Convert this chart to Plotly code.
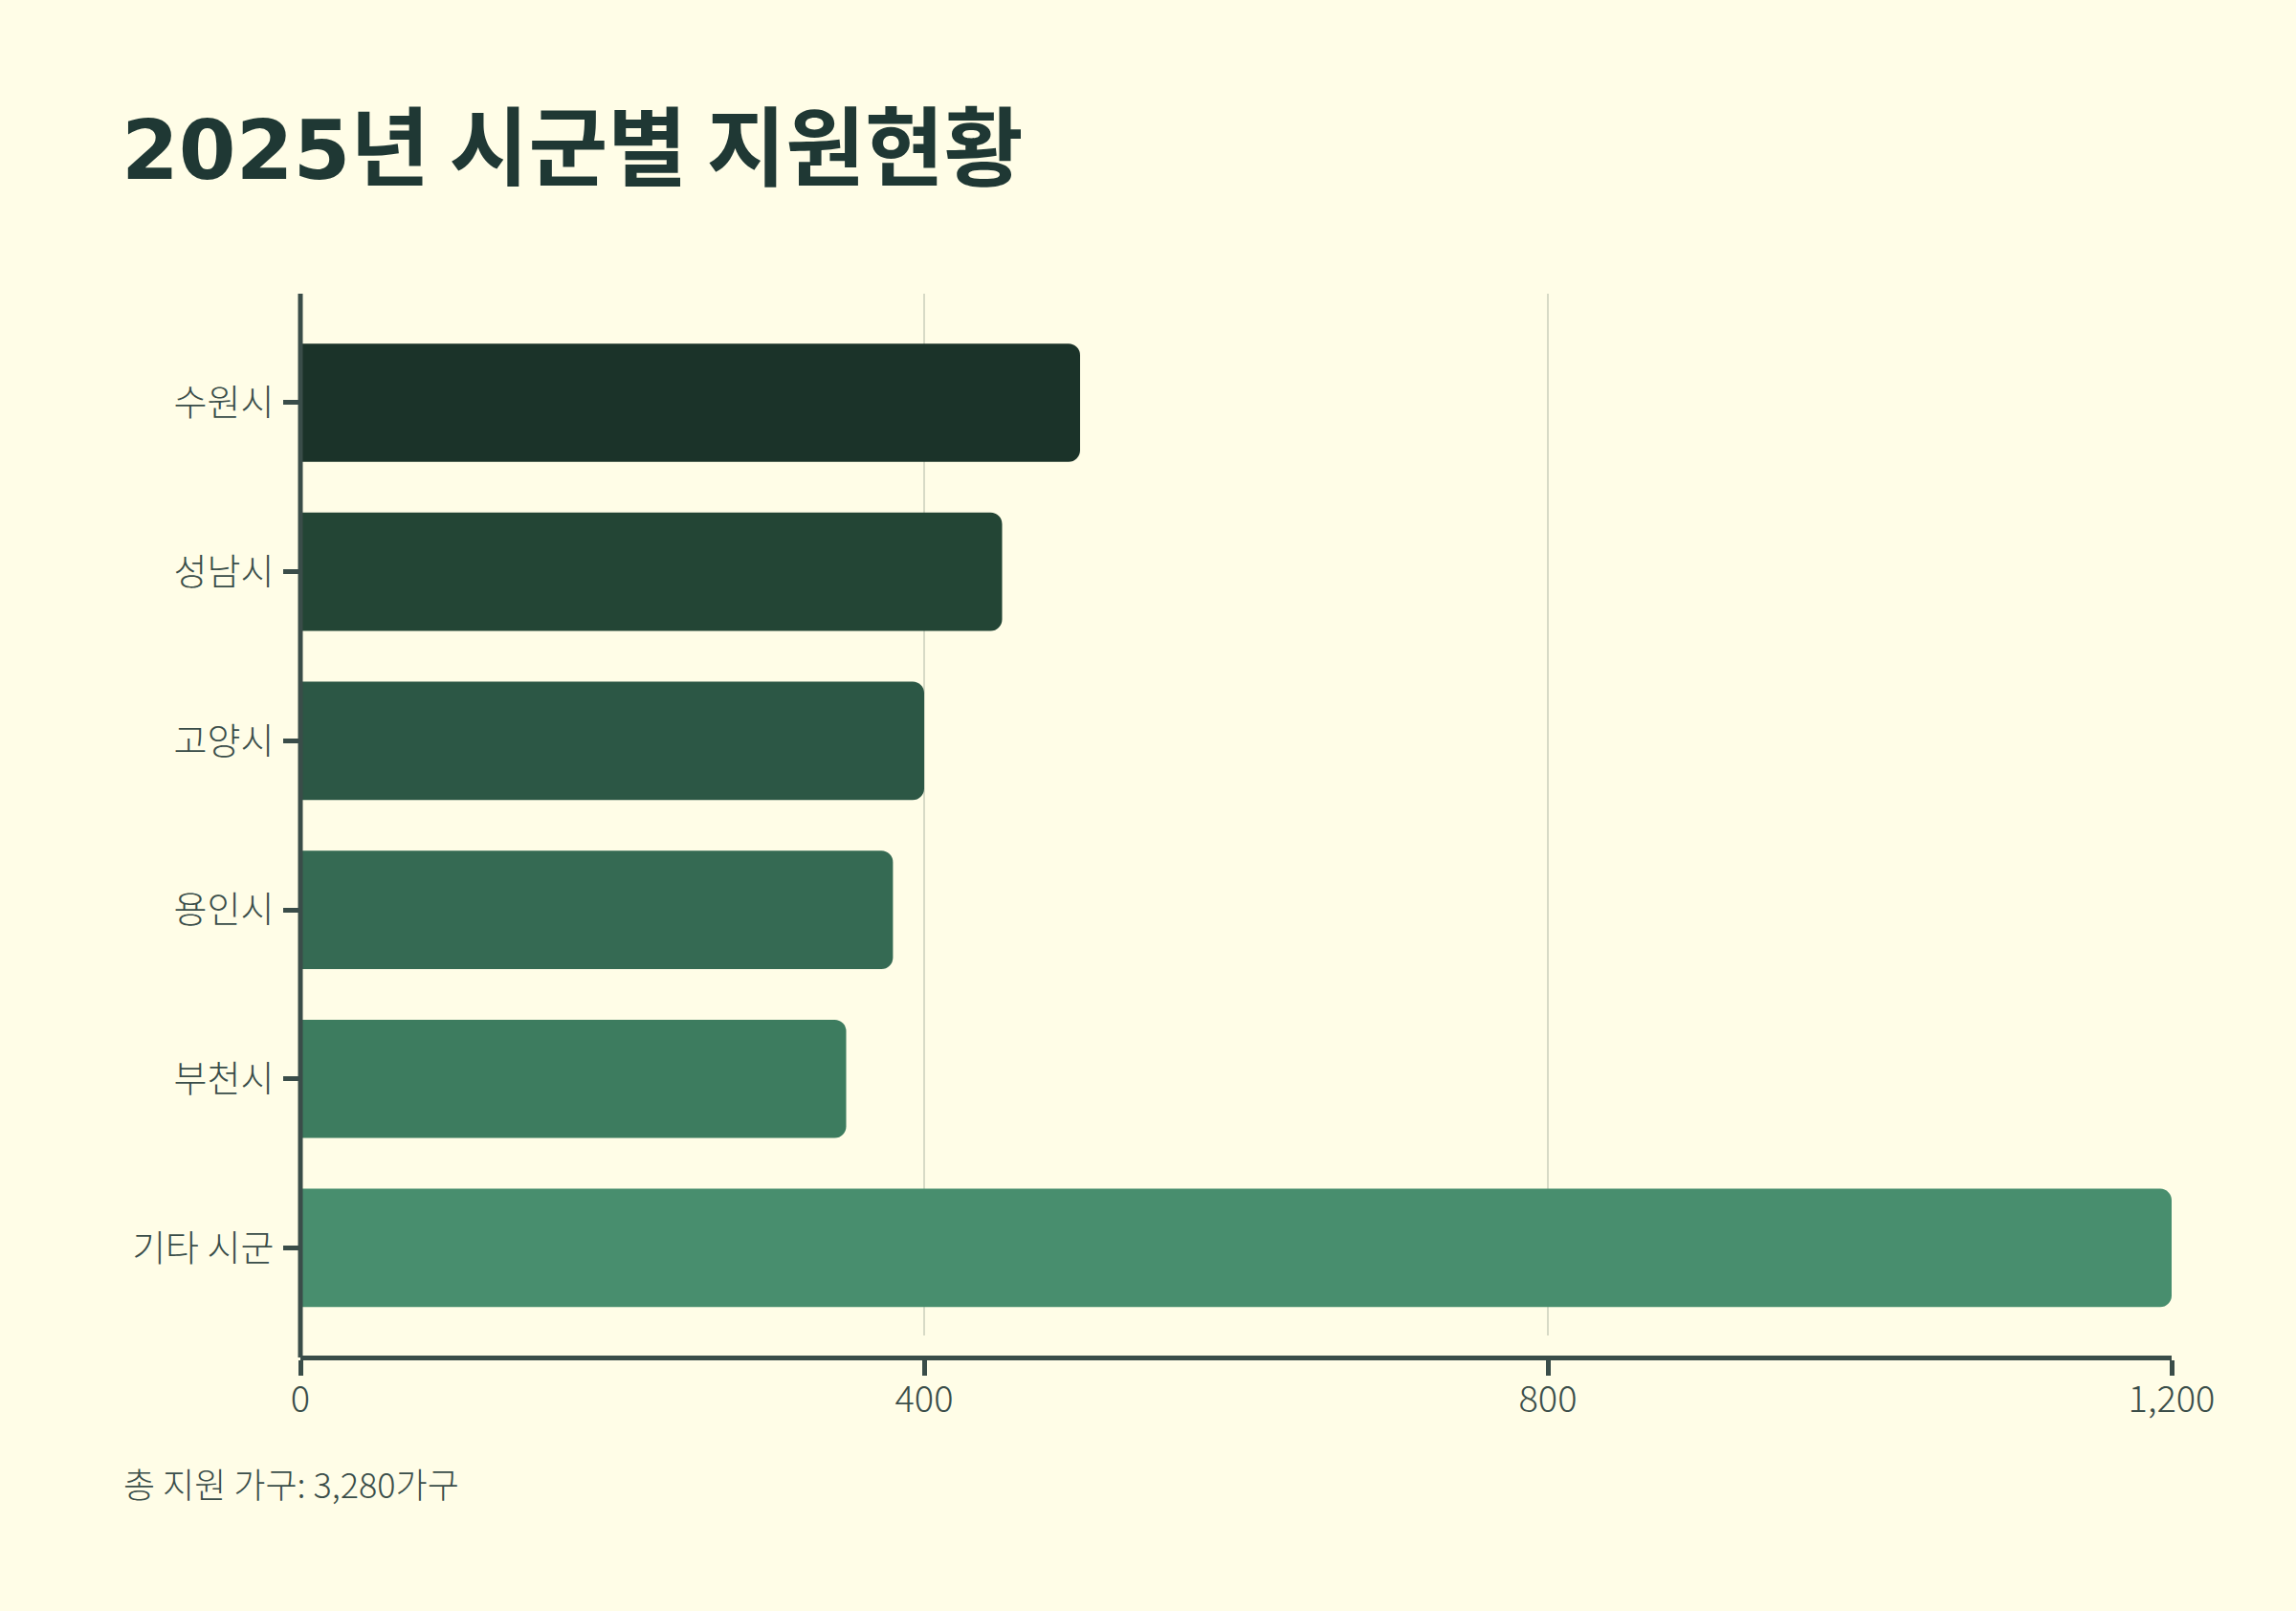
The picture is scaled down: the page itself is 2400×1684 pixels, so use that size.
import plotly.graph_objects as go

# 2025 support status by city/county
regions = ["수원시", "성남시", "고양시", "용인시", "부천시", "기타 시군"]
households = [500, 450, 400, 380, 350, 1200]
x_ticks = [0, 400, 800, 1200]
total_note = "총 지원 가구: 3,280가구"
title_year = "2025"
title_rest = "년 시군별 지원현황"

bar_colors = ["#1b3329", "#234535", "#2c5745", "#356a53", "#3d7c5f", "#488e6e"]

BG = "#fffde7"
INK = "#3a4d49"
FONT = "Noto Sans CJK KR"

W, H = 2400, 1684
M_L, M_R, M_T, M_B = 314, 130, 307, 265
plot_w = W - M_L - M_R
plot_h = H - M_T - M_B
grid_bottom = 1396  # gridlines stop a bit above the axis line
y_dom0 = (H - M_B - grid_bottom) / plot_h

fig = go.Figure(
    go.Bar(
        x=households,
        y=regions,
        orientation="h",
        marker=dict(color=bar_colors, line=dict(width=0)),
        width=0.7,
        hovertemplate="%{y}: %{x:,}가구<extra></extra>",
    )
)

title_html = (
    f"<span style='font-family:DejaVu Sans;font-size:86px'>{title_year}</span>"
    f"{title_rest}"
)

fig.update_layout(
    width=W,
    height=H,
    paper_bgcolor=BG,
    plot_bgcolor=BG,
    margin=dict(l=M_L, r=M_R, t=M_T, b=M_B),
    barcornerradius=12,
    showlegend=False,
    font=dict(family=FONT, size=38, color=INK),
    title=dict(
        text=title_html,
        x=127 / W,
        xref="container",
        xanchor="left",
        y=1 - 155 / H,
        yref="container",
        yanchor="middle",
        font=dict(family=FONT, size=90, color="#1f3834", weight=700),
    ),
    xaxis=dict(
        range=[0, 1200],
        tickvals=x_ticks,
        tickformat=",",
        showgrid=True,
        gridcolor="#d7dac6",
        gridwidth=2,
        zeroline=False,
        showline=True,
        linecolor=INK,
        linewidth=5,
        ticks="outside",
        ticklen=16,
        tickwidth=5,
        tickcolor=INK,
        anchor="free",
        position=0,
        ticklabelstandoff=-8,
        tickfont=dict(family=FONT, size=38, color=INK, weight=300),
        fixedrange=True,
    ),
    yaxis=dict(
        type="category",
        categoryarray=regions,
        range=[5.518, -0.645],
        domain=[y_dom0, 1],
        showgrid=False,
        zeroline=False,
        showline=False,
        ticks="outside",
        ticklen=17,
        tickwidth=5,
        tickcolor=INK,
        ticklabelstandoff=2,
        tickfont=dict(family=FONT, size=38, color=INK, weight=300),
        fixedrange=True,
    ),
    shapes=[
        dict(
            type="line",
            xref="paper",
            yref="paper",
            x0=0,
            x1=0,
            y0=0,
            y1=1,
            line=dict(color=INK, width=5),
            layer="above",
        )
    ],
    annotations=[
        dict(
            text=total_note,
            xref="paper",
            yref="paper",
            x=(127 - M_L) / plot_w,
            y=(H - M_B - 1550) / plot_h,
            xanchor="left",
            yanchor="middle",
            showarrow=False,
            font=dict(family=FONT, size=36, color=INK, weight=300),
        )
    ],
)

fig.write_html(
    "out.html",
    config={"displayModeBar": False},
    post_script="document.body.style.margin='0';",
)
